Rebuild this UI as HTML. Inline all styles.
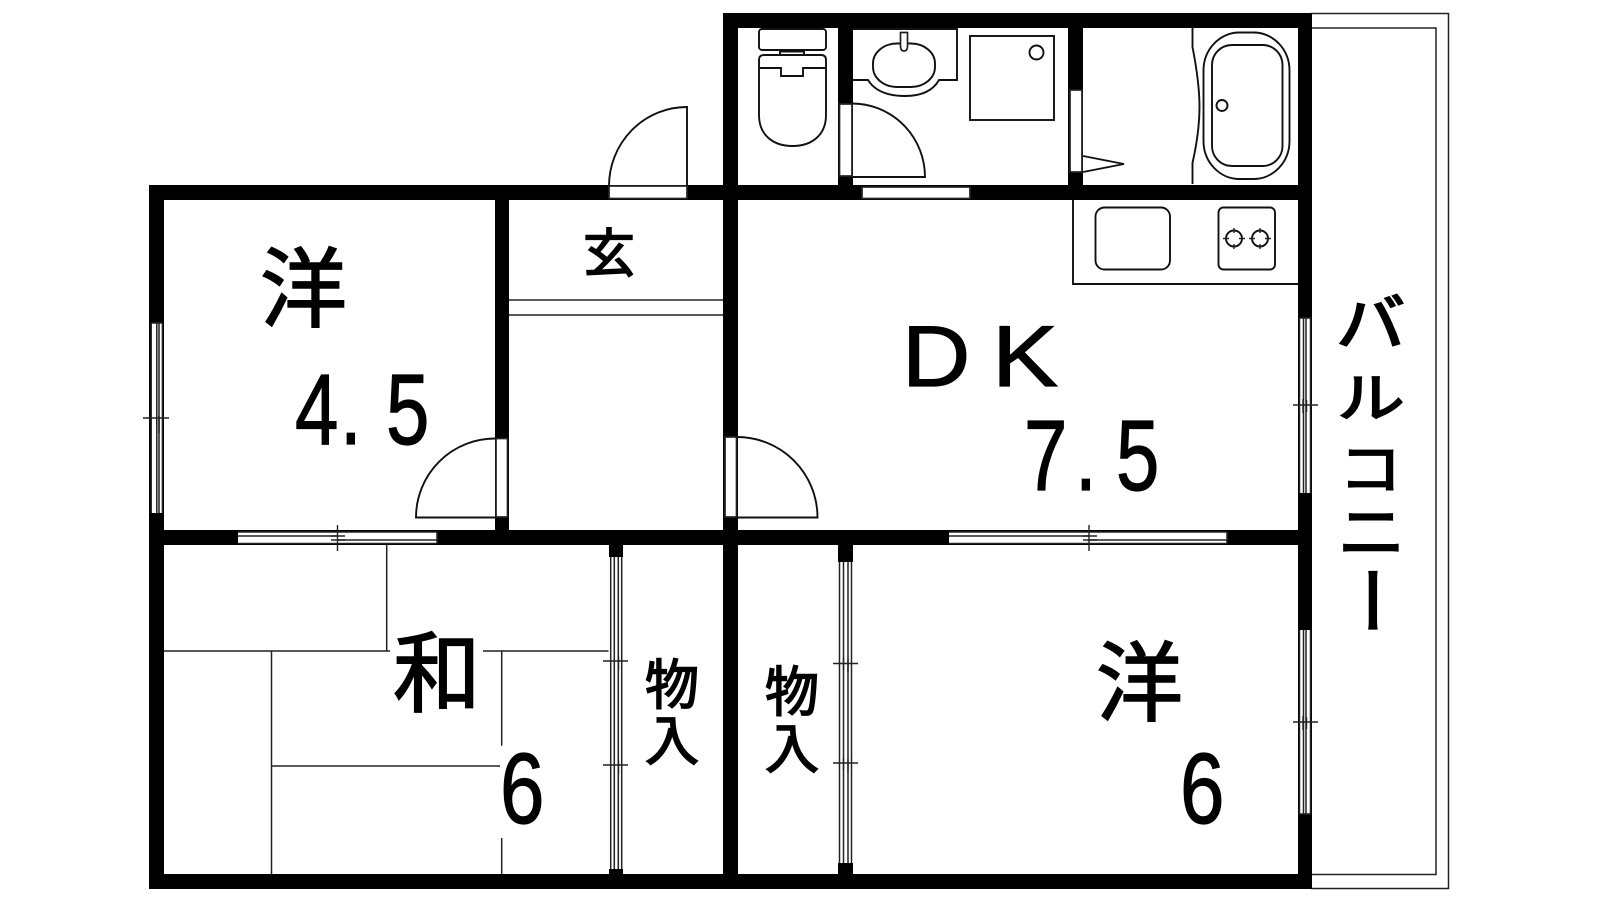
<!DOCTYPE html>
<html lang="ja">
<head>
<meta charset="utf-8">
<title>間取り図</title>
<style>
html,body{margin:0;padding:0;background:#fff;width:1600px;height:900px;overflow:hidden}
svg{display:block}
.l{fill:none;stroke:#111;stroke-width:1.9}
.w{fill:none;stroke:#222;stroke-width:1.5}
.t{stroke:#222;stroke-width:1.4}
.f{fill:#fff;stroke:#222;stroke-width:1.7}
.j{font-family:"Liberation Sans","Noto Sans CJK JP",sans-serif;fill:#000;stroke:#000;stroke-width:1.6}
.k{font-family:"Liberation Sans","Noto Sans CJK JP",sans-serif;fill:#000;stroke:#000;stroke-width:2.2}
.n{font-family:"Liberation Sans",sans-serif;fill:#000;stroke:#000;stroke-width:1.2}
</style>
</head>
<body>
<svg width="1600" height="900" viewBox="0 0 1600 900" xmlns="http://www.w3.org/2000/svg">
<rect width="1600" height="900" fill="#fff"/>

<!-- balcony -->
<path class="w" d="M1311,13.5H1448.5V888.5H1311M1311,28H1436V874.5H1311"/>

<!-- walls -->
<g fill="#000">
<rect x="723" y="13" width="589" height="15"/>
<rect x="723" y="13" width="15" height="876"/>
<rect x="149" y="185" width="1163" height="15"/>
<rect x="149" y="185" width="15" height="704"/>
<rect x="149" y="874" width="1163" height="15"/>
<rect x="1298" y="13" width="14" height="876"/>
<rect x="149" y="530" width="1163" height="15"/>
<rect x="495" y="185" width="14" height="345"/>
<rect x="838" y="28" width="15" height="157"/>
<rect x="1068" y="28" width="15" height="157"/>
<rect x="609" y="545" width="14" height="12"/>
<rect x="609" y="869" width="14" height="6"/>
<rect x="838" y="545" width="15" height="17"/>
<rect x="838" y="863" width="15" height="12"/>
</g>

<!-- entry -->
<rect class="f" x="609" y="186" width="78" height="12.500"/>
<path class="l" d="M609,186A78,79 0 0 1 687,107V186"/>
<path class="w" d="M509,300H723M509,315H723"/>

<!-- door 4.5 -->
<rect class="f" x="496" y="438.500" width="11.500" height="78.500"/>
<path class="l" d="M496,438.500A79,79 0 0 0 416,517.500H496"/>
<!-- door DK -->
<rect class="f" x="725" y="437" width="11.500" height="80"/>
<path class="l" d="M737,437A80.500,80.500 0 0 1 817.500,517.500H737"/>
<!-- door wash -->
<rect class="f" x="839.500" y="104" width="12.500" height="72"/>
<path class="l" d="M852,103.500A73,73.500 0 0 1 925,177H852"/>
<rect class="f" x="862" y="187" width="108" height="11.500"/>
<!-- door bath -->
<rect class="f" x="1070" y="90" width="12" height="82"/>
<path class="l" d="M1083,156L1124,164L1083,172"/>

<!-- toilet -->
<rect class="l" x="759" y="29" width="67" height="21" rx="3"/>
<path class="l" d="M780,50V55M804,50V55"/>
<path class="l" d="M780,51.500H804"/>
<path class="l" d="M759,60Q759,55 764,55H821Q826,55 826,60V115C826,135 812,146 792.500,146C773,146 759,135 759,115Z"/>
<path class="l" d="M759,68H781V76H803V68H826"/>

<!-- wash basin -->
<path class="l" d="M853,29H957V80H939Q930,96 905,96Q878,96 868,80H853"/>
<rect class="l" x="873" y="43.500" width="62" height="43.500" rx="24" ry="20"/>
<path class="f" d="M900.500,32.500H907.500V46Q907.500,51 904,51Q900.500,51 900.500,46Z"/>
<rect class="l" x="970" y="36" width="84" height="84"/>
<ellipse class="l" cx="1036.500" cy="52.500" rx="7" ry="7"/>

<!-- bath -->
<path class="l" d="M1192.500,28V47C1197,70 1199.500,90 1199.500,107C1199.500,125 1197,143 1192.500,163V184"/>
<rect class="l" x="1203.500" y="32.500" width="86" height="146.500" rx="36" ry="38"/>
<rect class="l" x="1212" y="45" width="70.500" height="121" rx="20" ry="20"/>
<circle class="l" cx="1222" cy="105.500" r="5.500"/>

<!-- kitchen -->
<path class="l" d="M1073,200V284H1298"/>
<rect class="l" x="1095.500" y="207.500" width="74.500" height="62" rx="9"/>
<rect class="l" x="1218.500" y="207.500" width="56.500" height="62" rx="5"/>
<circle class="l" cx="1234" cy="238.500" r="8"/>
<circle class="l" cx="1260" cy="238.500" r="8"/>
<path class="t" d="M1223,238.500H1229M1239,238.500H1245M1234,228V233M1234,244V249M1249,238.500H1255M1265,238.500H1271M1260,228V233M1260,244V249"/>

<!-- left window -->
<rect x="151" y="323" width="11.500" height="190" fill="#fff"/>
<path class="w" d="M151.200,323V513M156.800,323V513M159,323V513M162.400,323V513M151,323H162.500"/>
<path class="t" d="M143,418H169M156.800,412V424M159,416V433"/>

<!-- window 4.5/washitsu -->
<rect x="238" y="531.500" width="199" height="12" fill="#fff"/>
<path class="w" d="M238,532H437M238,536H337M337,540H437M238,543.500H437M437,532V543.500"/>
<path class="t" d="M337.500,525V551M331,536H345M331,540H345"/>

<!-- window DK / west -->
<rect x="949" y="531.500" width="278" height="12" fill="#fff"/>
<path class="w" d="M949,532H1227M949,536H1089M1089,540H1227M949,543.500H1227M1227,532V543.500"/>
<path class="t" d="M1089,525V551M1083,536H1097M1083,540H1097"/>

<!-- right windows -->
<rect x="1299" y="318" width="12" height="175" fill="#fff"/>
<rect x="1299" y="630" width="12" height="184" fill="#fff"/>
<path class="w" d="M1299.500,318V493M1303.500,318V493M1306,318V493M1310.500,318V493M1299,318H1311"/>
<path class="w" d="M1299.500,630V814M1303.500,630V814M1306,630V814M1310.500,630V814M1299,814H1311"/>
<path class="t" d="M1293,405H1318M1303,399V413M1306.500,400V412M1293,722H1318M1303,716V730M1306.500,717V729"/>

<!-- closet windows -->
<rect x="610" y="557" width="12" height="312" fill="#fff"/>
<path class="w" d="M610.700,557V869M614.300,557V869M618.300,557V869M621.700,557V869"/>
<path class="t" d="M603,661H628M614.300,656V668M618.500,657V670M603,765H628M614.300,760V772M618.500,761V774"/>
<rect x="839" y="562" width="13" height="301" fill="#fff"/>
<path class="w" d="M839.500,562V863M843.500,562V863M848,562V863M851.500,562V863"/>
<path class="t" d="M833,663.500H858M843.500,658V670M848,659V672M833,763H858M843.500,758V770M848,759V772"/>

<!-- tatami -->
<path class="w" d="M386.700,545V651M164,651H390M483,651H608.500M271.500,651V874M271.500,766H500M501.700,651V745.700M501.700,838V874"/>

<!-- labels -->
<text class="j" x="260" y="320" font-size="87">洋</text>
<text class="j" x="1096" y="714" font-size="87">洋</text>
<text class="j" x="393" y="705" font-size="88">和</text>
<text class="j" x="583" y="272" font-size="52">玄</text>
<text class="j" x="645" y="704" font-size="54">物</text>
<text class="j" x="645" y="760" font-size="54">入</text>
<text class="j" x="765" y="711" font-size="54">物</text>
<text class="j" x="765" y="768" font-size="54">入</text>
<text class="k" font-size="70" transform="translate(1336,345) scale(.99,.88)">バ</text>
<text class="k" font-size="70" transform="translate(1337,417) scale(.97,.76)">ル</text>
<text class="k" font-size="70" transform="translate(1339,489) scale(.9,.8)">コ</text>
<text class="k" font-size="70" transform="translate(1338,554) scale(.96,.88)">ニ</text>
<text class="k" x="1366" y="565" font-size="72" style="writing-mode:vertical-rl">ー</text>

<text class="n" font-size="100" transform="translate(295,444) scale(.78,1)">4</text>
<text class="n" font-size="100" transform="translate(340,444) scale(.78,1)">.</text>
<text class="n" font-size="100" transform="translate(386,444) scale(.78,1)">5</text>
<text class="n" font-size="86" transform="translate(902,386) scale(1.1,1)">D</text>
<text class="n" font-size="86" transform="translate(992,386) scale(1.15,1)">K</text>
<text class="n" font-size="100" transform="translate(1024,490) scale(.78,1)">7</text>
<text class="n" font-size="100" transform="translate(1075,490) scale(.78,1)">.</text>
<text class="n" font-size="100" transform="translate(1116,490) scale(.78,1)">5</text>
<text class="n" font-size="100" transform="translate(500,823) scale(.8,1)">6</text>
<text class="n" font-size="100" transform="translate(1180,823) scale(.8,1)">6</text>
</svg>
</body>
</html>
